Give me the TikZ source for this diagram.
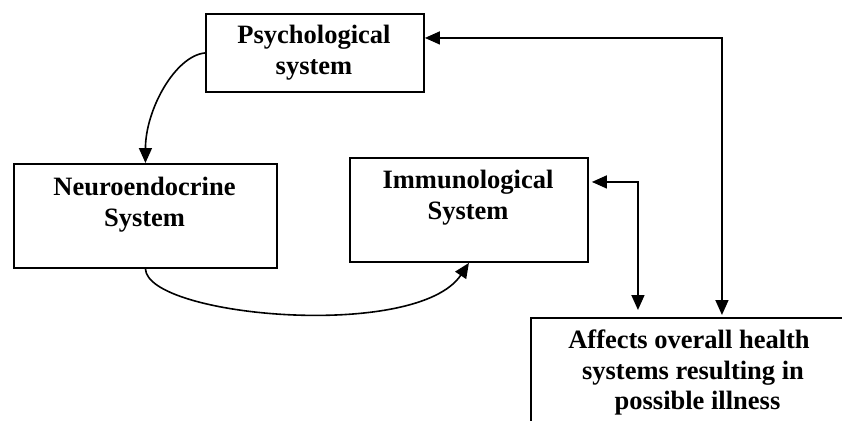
\documentclass[tikz,border=0pt]{standalone}
\usepackage{fontspec}
\setmainfont{Liberation Serif}
\usetikzlibrary{arrows.meta,calc}
\begin{document}
\begin{tikzpicture}[x=1pt,y=-1pt,
  box/.style={draw,line width=1.9pt,inner sep=0pt,anchor=north west},
  lbl/.style={font=\fontsize{26.5}{30.5}\selectfont\bfseries,align=center,inner sep=0pt,anchor=north},
  conn/.style={line width=1.6pt,-{Triangle[length=15pt,width=13pt]}},
  both/.style={line width=1.6pt,{Triangle[length=15pt,width=13pt]}-{Triangle[length=15pt,width=13pt]}}]
\useasboundingbox (0,0) rectangle (842,420);
\clip (0,0) rectangle (842,420);
\node[box,minimum width=218pt,minimum height=78pt] (psych) at (205,13) {};
\node[box,minimum width=263pt,minimum height=104pt] (neuro) at (13,163) {};
\node[box,minimum width=238pt,minimum height=104pt] (immuno) at (349,157) {};
\node[box,minimum width=340pt,minimum height=150pt] (affects) at (530,317) {};
\node[lbl] (psychT) at (314,25) {Psychological\\system};
\node[lbl] (neuroT) at (144.5,177) {Neuroendocrine\\System};
\node[lbl] (immunoT) at (468,170) {Immunological\\System};
\node[lbl] (affectsT) at (689,330) {Affects overall health\\\hspace*{8pt}systems resulting in\\\hspace*{17pt}possible illness};
\draw[conn] (psych.west) .. controls +(-30,3) and +(0,-53) .. (neuro.north);
\draw[conn] (neuro.south) .. controls +(2,48) and +(-52,78) .. (immuno.south);
\draw[both,shorten >=2pt] ([yshift=15pt]psych.east) -| ([xshift=21pt]affects.north);
\draw[both,shorten <=3pt,shorten >=7pt] ([yshift=28pt]immuno.east) -| ([xshift=-63pt]affects.north);
\end{tikzpicture}
\end{document}
